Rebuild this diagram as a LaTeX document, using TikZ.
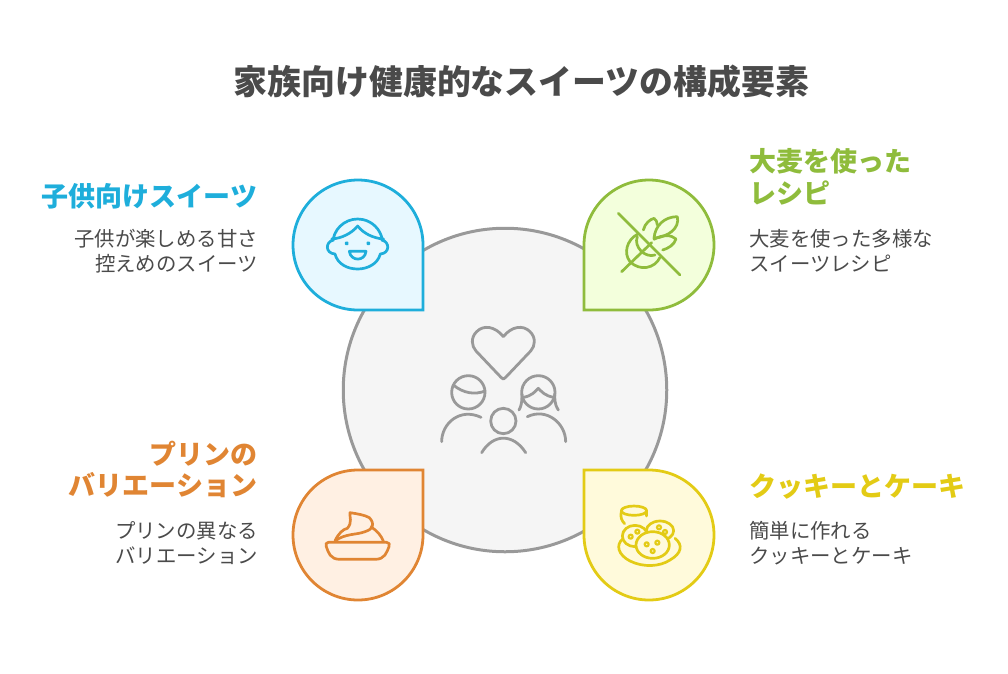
\documentclass[tikz,border=0pt]{standalone}
\usepackage{fontspec}
\setmainfont{Noto Sans CJK JP}
\usetikzlibrary{positioning}
\definecolor{ink}{HTML}{4A4A4A}
\definecolor{hub_line}{HTML}{999999}
\definecolor{hub_fill}{HTML}{F5F5F5}
\definecolor{kid_line}{HTML}{1EAEDB}
\definecolor{kid_fill}{HTML}{E7F8FF}
\definecolor{wheat_line}{HTML}{8FBC3C}
\definecolor{wheat_fill}{HTML}{F3FFDC}
\definecolor{pudding_line}{HTML}{E08533}
\definecolor{pudding_fill}{HTML}{FFF0E3}
\definecolor{cookie_line}{HTML}{E3CB15}
\definecolor{cookie_fill}{HTML}{FFFADB}

\begin{document}
\begin{tikzpicture}[
  x=1pt,y=-1pt,
  title_text/.style={inner sep=0pt,text=ink,font=\fontsize{33.9}{40}\selectfont\bfseries},
  head_text/.style={inner sep=0pt,font=\fontsize{27}{31.5}\selectfont\bfseries},
  body_text/.style={inner sep=0pt,text=ink,font=\fontsize{20.4}{25}\selectfont},
  drop/.style={line width=2.8pt,line join=miter},
  icon/.style={line width=2.7pt,line cap=round,line join=round,fill=none},
  hub_icon/.style={icon,draw=hub_line,line width=2.8pt}
  ]
  \useasboundingbox (0,0) rectangle (1008,673);

%hub
  \node (hub) [circle,draw=hub_line,fill=hub_fill,line width=3pt,inner sep=0pt,minimum size=323.5pt] at(505,390) {};

%drops
  \draw[drop,draw=kid_line,fill=kid_fill] (423,245) arc[start angle=0,end angle=-270,radius=65] -- (423,310) -- cycle;
  \draw[drop,draw=wheat_line,fill=wheat_fill] (584,245) arc[start angle=180,end angle=450,radius=65] -- (584,310) -- cycle;
  \draw[drop,draw=pudding_line,fill=pudding_fill] (358,470) arc[start angle=-90,end angle=-360,radius=65] -- (423,470) -- cycle;
  \draw[drop,draw=cookie_line,fill=cookie_fill] (649,470) arc[start angle=-90,end angle=180,radius=65] -- (584,470) -- cycle;

%title
  \node (title) [title_text] at(521.5,81.5) {家族向け健康的なスイーツの構成要素};

%kid
  \node (kid_head) [head_text,text=kid_line,anchor=east] at(257.5,196) {子供向けスイーツ};
  \node (kid_body) [body_text,anchor=north east,align=right] at(258,229.5) {子供が楽しめる甘さ\\控えめのスイーツ};

%wheat
  \node (wheat_head) [head_text,text=wheat_line,anchor=north west,align=left] at(749,148.5) {大麦を使った\\レシピ};
  \node (wheat_body) [body_text,anchor=north west,align=left] at(749,229.5) {大麦を使った多様な\\スイーツレシピ};

%pudding
  \node (pudding_head) [head_text,text=pudding_line,anchor=north east,align=right] at(257.5,440.5) {プリンの\\バリエーション};
  \node (pudding_body) [body_text,anchor=north east,align=right] at(258,521.5) {プリンの異なる\\バリエーション};

%cookie
  \node (cookie_head) [head_text,text=cookie_line,anchor=west] at(749,487) {クッキーとケーキ};
  \node (cookie_body) [body_text,anchor=north west,align=left] at(749,521.5) {簡単に作れる\\クッキーとケーキ};

%family icon
  \begin{scope}[shift={(430,320)},scale=1/3]
    \draw[hub_icon] (220,50) .. controls (195,18) and (160,14) .. (140,35) .. controls (122,52) and (124,78) .. (138,93) -- (213,172) .. controls (218,179) and (222,179) .. (227,172) -- (302,93) .. controls (316,78) and (318,52) .. (300,35) .. controls (280,14) and (245,18) .. (220,50);
    \draw[hub_icon] (115,217) circle[radius=50];
    \draw[hub_icon] (70,195) .. controls (100,220) and (135,225) .. (165,213);
    \draw[hub_icon] (35,365) .. controls (35,310) and (90,262) .. (153,292);
    \draw[hub_icon] (325,217) circle[radius=50];
    \draw[hub_icon] (280,232) .. controls (305,228) and (315,215) .. (325,205) .. controls (335,215) and (345,228) .. (372,232);
    \draw[hub_icon] (267,270) .. controls (278,250) and (275,235) .. (276,222);
    \draw[hub_icon] (385,270) .. controls (372,250) and (375,235) .. (374,222);
    \draw[hub_icon] (292,290) .. controls (350,262) and (407,310) .. (407,365);
    \draw[hub_icon] (220,303) circle[radius=38];
    \draw[hub_icon] (155,398) .. controls (190,340) and (250,340) .. (287,398);
  \end{scope}

%kid icon
  \begin{scope}[shift={(290,170)},scale=1/3,icon/.append style={draw=kid_line}]
    \draw[icon] (203,222) ++(191.6:75) arc[start angle=191.6,end angle=348.4,radius=75];
    \draw[icon] (131,210) .. controls (105,215) and (105,250) .. (135,252) .. controls (150,312) and (255,312) .. (271,252) .. controls (300,250) and (300,215) .. (275,210);
    \draw[icon] (125,207) .. controls (155,205) and (185,190) .. (203,168) .. controls (220,190) and (250,205) .. (281,207);
    \draw[icon,fill=kid_line] (170,220) circle[radius=2.5];
    \draw[icon,fill=kid_line] (235,220) circle[radius=2.5];
    \draw[icon] (178,244) -- (228,244) .. controls (225,275) and (182,275) .. (178,244) -- cycle;
  \end{scope}

%wheat icon
  \begin{scope}[shift={(580,170)},scale=1/3,icon/.append style={draw=wheat_line}]
    \draw[icon] (115,130) -- (300,315);
    \draw[icon] (125,305) -- (215,218);
    \draw[icon] (172,193) .. controls (140,210) and (130,250) .. (150,275) .. controls (180,305) and (225,295) .. (240,262);
    \draw[icon] (172,200) .. controls (160,230) and (195,265) .. (225,255);
    \draw[icon] (222,205) .. controls (225,165) and (255,140) .. (292,140) .. controls (300,175) and (265,200) .. (222,205);
    \draw[icon] (190,180) .. controls (195,160) and (210,148) .. (222,145) .. controls (228,150) and (232,155) .. (232,165);
    \draw[icon] (222,208) .. controls (250,192) and (275,195) .. (288,207) .. controls (282,225) and (265,235) .. (248,240);
  \end{scope}

%pudding icon
  \begin{scope}[shift={(290,465)},scale=1/3,icon/.append style={draw=pudding_line}]
    \draw[icon] (115,232) -- (290,232) .. controls (298,232) and (300,238) .. (297,245) .. controls (290,262) and (285,283) .. (255,283) -- (150,283) .. controls (120,283) and (115,262) .. (109,245) .. controls (106,238) and (108,232) .. (115,232) -- cycle;
    \draw[icon] (135,228) .. controls (145,205) and (160,192) .. (172,190) .. controls (188,172) and (178,155) .. (180,143) .. controls (200,146) and (225,150) .. (238,158) .. controls (248,168) and (250,178) .. (245,187) .. controls (262,198) and (272,210) .. (280,228);
    \draw[icon] (135,228) .. controls (165,205) and (200,210) .. (225,200) .. controls (240,195) and (245,190) .. (247,182);
  \end{scope}

%cookie icon
  \begin{scope}[shift={(580,465)},scale=1/3,icon/.append style={draw=cookie_line}]
    \draw[icon] (130,220) .. controls (105,240) and (115,270) .. (150,288) .. controls (190,308) and (240,305) .. (270,285) .. controls (305,265) and (310,240) .. (285,220);
    \draw[icon] (162,137) ellipse[x radius=38,y radius=14];
    \draw[icon] (124,140) .. controls (120,155) and (125,168) .. (134,176);
    \draw[icon] (200,140) -- (200,153);
    \draw[icon,fill=cookie_fill] (240,197) ellipse[x radius=41,y radius=29];
    \draw[icon,fill=cookie_fill] (165,213) ellipse[x radius=38,y radius=32];
    \draw[icon,fill=cookie_fill] (218,240) ellipse[x radius=50,y radius=40];
    \foreach \cx/\cy in {152/215,172/200,237/187,255/201,200/238,232/233,218/258}
      \draw[icon,line width=2.2pt] (\cx,\cy) circle[radius=6];
  \end{scope}
\end{tikzpicture}
\end{document}
